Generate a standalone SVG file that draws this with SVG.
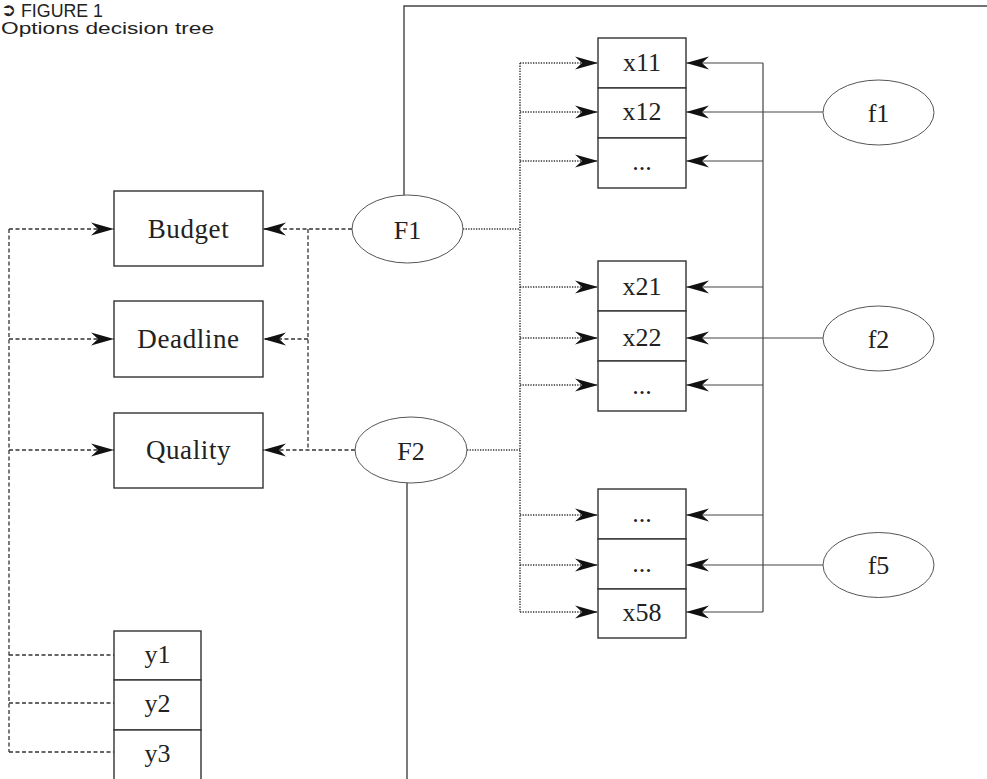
<svg xmlns="http://www.w3.org/2000/svg" width="987" height="779" viewBox="0 0 987 779">
<style>
.box{fill:#fff;stroke:#333;stroke-width:1.4}
.ell{fill:#fff;stroke:#555;stroke-width:1}
.lbl{font-family:"Liberation Serif","Times New Roman",serif;font-size:26px;fill:#222;text-anchor:middle}
.wd{font-size:27px;letter-spacing:0.6px}
.hdr{font-family:"Liberation Sans",Arial,sans-serif;font-size:19px;fill:#222}
.sym{font-family:"DejaVu Sans",sans-serif;font-size:18px;fill:#222}
.dash{fill:none;stroke:#333;stroke-width:1.3;stroke-dasharray:4 2.5}
.dot{fill:none;stroke:#333;stroke-width:1.5;stroke-dasharray:1.3 1.3}
.sol{fill:none;stroke:#444;stroke-width:1.2}
.frame{fill:none;stroke:#444;stroke-width:1.4}
</style>
<defs>
<marker id="ah" viewBox="-24 -7 25 14" refX="0" refY="0" markerWidth="25" markerHeight="14" markerUnits="userSpaceOnUse" orient="auto">
<path d="M0,0 L-23,-6.5 L-16,0 L-23,6.5 Z" fill="#111"/>
</marker>
</defs>
<rect width="987" height="779" fill="#fff"/>
<g id="header">
<text class="sym" x="1" y="16">➲</text>
<text class="hdr" x="21" y="17" textLength="82" lengthAdjust="spacingAndGlyphs">FIGURE 1</text>
<text class="hdr" x="1" y="34" style="font-size:17px" textLength="213" lengthAdjust="spacingAndGlyphs">Options decision tree</text>
</g>
<g id="connectors">
<path class="frame" d="M404,195 V6 H987"/>
<path class="frame" d="M407,483 V779"/>
<path class="dash" d="M9,229 V752"/>
<path class="dash" d="M9,229 H114" marker-end="url(#ah)"/>
<path class="dash" d="M9,339 H114" marker-end="url(#ah)"/>
<path class="dash" d="M9,450 H114" marker-end="url(#ah)"/>
<path class="dash" d="M9,655 H114"/>
<path class="dash" d="M9,703 H114"/>
<path class="dash" d="M9,752 H114"/>
<path class="dash" d="M352,229 H263" marker-end="url(#ah)"/>
<path class="dash" d="M308,229 V450"/>
<path class="dash" d="M308,339 H263" marker-end="url(#ah)"/>
<path class="dash" d="M355,450 H263" marker-end="url(#ah)"/>
<path class="dot" d="M463,229 H520"/>
<path class="dot" d="M467,450 H520"/>
<path class="dot" d="M520,63 V612"/>
<path class="dot" d="M520,63 H598" marker-end="url(#ah)"/>
<path class="dot" d="M520,112 H598" marker-end="url(#ah)"/>
<path class="dot" d="M520,161 H598" marker-end="url(#ah)"/>
<path class="dot" d="M520,287 H598" marker-end="url(#ah)"/>
<path class="dot" d="M520,338 H598" marker-end="url(#ah)"/>
<path class="dot" d="M520,385 H598" marker-end="url(#ah)"/>
<path class="dot" d="M520,515 H598" marker-end="url(#ah)"/>
<path class="dot" d="M520,565 H598" marker-end="url(#ah)"/>
<path class="dot" d="M520,612 H598" marker-end="url(#ah)"/>
<path class="sol" d="M763,63 V612"/>
<path class="sol" d="M763,63 H686" marker-end="url(#ah)"/>
<path class="sol" d="M823,112 H686" marker-end="url(#ah)"/>
<path class="sol" d="M763,161 H686" marker-end="url(#ah)"/>
<path class="sol" d="M763,287 H686" marker-end="url(#ah)"/>
<path class="sol" d="M823,338 H686" marker-end="url(#ah)"/>
<path class="sol" d="M763,385 H686" marker-end="url(#ah)"/>
<path class="sol" d="M763,515 H686" marker-end="url(#ah)"/>
<path class="sol" d="M823,565 H686" marker-end="url(#ah)"/>
<path class="sol" d="M763,612 H686" marker-end="url(#ah)"/>
</g>
<g id="budget"><rect class="box" x="114" y="191" width="149" height="75"/><text class="lbl wd" x="188.5" y="238">Budget</text></g>
<g id="deadline"><rect class="box" x="114" y="301" width="149" height="76"/><text class="lbl wd" x="188.5" y="348">Deadline</text></g>
<g id="quality"><rect class="box" x="114" y="413" width="149" height="75"/><text class="lbl wd" x="188.5" y="459">Quality</text></g>
<g id="y1"><rect class="box" x="114" y="631" width="87" height="49"/><text class="lbl" x="157.5" y="663">y1</text></g>
<g id="y2"><rect class="box" x="114" y="680" width="87" height="50"/><text class="lbl" x="157.5" y="712">y2</text></g>
<g id="y3"><rect class="box" x="114" y="730" width="87" height="52"/><text class="lbl" x="157.5" y="762">y3</text></g>
<g id="F1"><ellipse class="ell" cx="407.5" cy="229" rx="55.5" ry="34"/><text class="lbl" x="407.5" y="239">F1</text></g>
<g id="F2"><ellipse class="ell" cx="411" cy="450" rx="56" ry="33"/><text class="lbl" x="411" y="460">F2</text></g>
<g id="x11"><rect class="box" x="598" y="38" width="88" height="50"/><text class="lbl" x="642" y="71">x11</text></g>
<g id="x12"><rect class="box" x="598" y="88" width="88" height="50"/><text class="lbl" x="642" y="120">x12</text></g>
<g id="x1n"><rect class="box" x="598" y="138" width="88" height="50"/><text class="lbl" x="642" y="170">...</text></g>
<g id="x21"><rect class="box" x="598" y="261" width="88" height="50"/><text class="lbl" x="642" y="295">x21</text></g>
<g id="x22"><rect class="box" x="598" y="311" width="88" height="50"/><text class="lbl" x="642" y="346">x22</text></g>
<g id="x2n"><rect class="box" x="598" y="361" width="88" height="50"/><text class="lbl" x="642" y="394">...</text></g>
<g id="x5a"><rect class="box" x="598" y="489" width="88" height="50"/><text class="lbl" x="642" y="522">...</text></g>
<g id="x5b"><rect class="box" x="598" y="539" width="88" height="50"/><text class="lbl" x="642" y="572">...</text></g>
<g id="x58"><rect class="box" x="598" y="589" width="88" height="49"/><text class="lbl" x="642" y="621">x58</text></g>
<g id="f1"><ellipse class="ell" cx="878.5" cy="112.5" rx="55.5" ry="32.5"/><text class="lbl" x="878.5" y="122">f1</text></g>
<g id="f2"><ellipse class="ell" cx="878.5" cy="338.5" rx="55.5" ry="32.5"/><text class="lbl" x="878.5" y="348">f2</text></g>
<g id="f5"><ellipse class="ell" cx="878.5" cy="565" rx="55.5" ry="32.5"/><text class="lbl" x="878.5" y="574">f5</text></g>
</svg>
